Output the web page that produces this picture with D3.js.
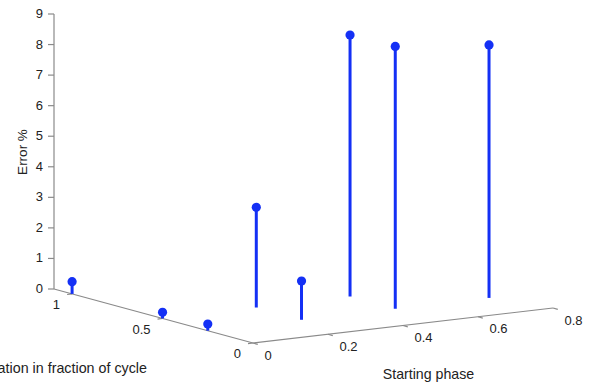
<!DOCTYPE html>
<html>
<head>
<meta charset="utf-8">
<script src="https://cdn.jsdelivr.net/npm/d3@7"></script>
<style>
  html, body { margin: 0; padding: 0; background: #fff; }
  svg { display: block; }
  text { font-family: "Liberation Sans", Arial, Helvetica, sans-serif; fill: #222; }
</style>
</head>
<body>
<svg id="chart" width="590" height="385"></svg>
<script>
// Error (%) measured for each starting phase / duration combination
const startingPhase = [0, 0, 0, 0.25, 0.25, 0.5, 0.5, 0.75];
const duration      = [1, 0.5, 0.25, 0.5, 0.25, 0.5, 0.25, 0.25];
const errorPct      = [0.4, 0.2, 0.22, 3.28, 1.27, 8.56, 8.59, 8.28];

const phaseTicks = [0, 0.2, 0.4, 0.6, 0.8];
const durationTicks = [0, 0.5, 1];
const errorTicks = [0, 1, 2, 3, 4, 5, 6, 7, 8, 9];

const svg = d3.select("#chart");

// Oblique 3-D view: every data axis maps onto a screen-space vector.
const origin = { x: 253, y: 343 };             // phase = 0, duration = 0, error = 0
const phaseX = d3.scaleLinear().domain([0, 0.8]).range([0, 300]);
const phaseY = d3.scaleLinear().domain([0, 0.8]).range([0, -35]);
const durX   = d3.scaleLinear().domain([0, 1.1]).range([0, -199]);
const durY   = d3.scaleLinear().domain([0, 1.1]).range([0, -54]);
const errY   = d3.scaleLinear().domain([0, 9]).range([0, -275]);

function project(p, d, z) {
  return [origin.x + phaseX(p) + durX(d), origin.y + phaseY(p) + durY(d) + errY(z)];
}

const axisColor = "#8a8a8a";
const tickFont = 13;
const durMax = durX.domain()[1];
const phaseMax = phaseX.domain()[1];
const errMax = errY.domain()[1];

const g = svg.append("g");

// Axis lines
const axisLines = [
  [project(0, durMax, 0), project(0, durMax, errMax)],   // vertical (error)
  [project(0, 0, 0), project(0, durMax, 0)],           // duration
  [project(0, 0, 0), project(phaseMax, 0, 0)]          // starting phase
];
g.selectAll("line.axis").data(axisLines).join("line")
  .attr("class", "axis")
  .attr("x1", d => d[0][0]).attr("y1", d => d[0][1])
  .attr("x2", d => d[1][0]).attr("y2", d => d[1][1])
  .attr("stroke", axisColor).attr("stroke-width", 1.2);

// Error axis ticks + labels
const errG = g.append("g");
errorTicks.forEach(t => {
  const [x, y] = project(0, durMax, t);
  errG.append("line").attr("x1", x).attr("y1", y).attr("x2", x - 6).attr("y2", y)
    .attr("stroke", axisColor).attr("stroke-width", 1.2);
  errG.append("text").attr("x", x - 11).attr("y", y - 0.5).attr("dy", "0.35em")
    .attr("text-anchor", "end").attr("font-size", tickFont).text(t);
});

// Duration axis ticks + labels
durationTicks.forEach(t => {
  const [x, y] = project(0, t, 0);
  g.append("line").attr("x1", x).attr("y1", y).attr("x2", x - 5).attr("y2", y + 0.6)
    .attr("stroke", axisColor).attr("stroke-width", 1.2);
  g.append("text").attr("x", x - 12).attr("y", y + 10.5).attr("dy", "0.35em")
    .attr("text-anchor", "end").attr("font-size", tickFont).text(t);
});

// Starting phase axis ticks + labels
phaseTicks.forEach(t => {
  const [x, y] = project(t, 0, 0);
  g.append("line").attr("x1", x).attr("y1", y).attr("x2", x + 4.8).attr("y2", y + 1.3)
    .attr("stroke", axisColor).attr("stroke-width", 1.2);
  g.append("text").attr("x", x + 11.5).attr("y", y + 12).attr("dy", "0.35em")
    .attr("text-anchor", "start").attr("font-size", tickFont).text(t);
});

// Axis titles
g.append("text").attr("transform", "translate(22,152) rotate(-90)")
  .attr("text-anchor", "middle").attr("dy", "0.35em").attr("font-size", 13.5).text("Error %");
g.append("text").attr("x", 147).attr("y", 373)
  .attr("text-anchor", "end").attr("font-size", 14.3).text("Duration in fraction of cycle");
g.append("text").attr("x", 428.5).attr("y", 379)
  .attr("text-anchor", "middle").attr("font-size", 14.2).text("Starting phase");

// Stems
const pts = startingPhase.map((p, i) => ({
  base: project(p, duration[i], 0),
  top: project(p, duration[i], errorPct[i])
}));
const stemColor = "#1430f5";
const stems = g.append("g");
stems.selectAll("line").data(pts).join("line")
  .attr("x1", d => d.base[0]).attr("y1", d => d.base[1])
  .attr("x2", d => d.top[0]).attr("y2", d => d.top[1])
  .attr("stroke", stemColor).attr("stroke-width", 3);
stems.selectAll("circle").data(pts).join("circle")
  .attr("cx", d => d.top[0]).attr("cy", d => d.top[1]).attr("r", 4.6)
  .attr("fill", stemColor);
</script>
</body>
</html>
